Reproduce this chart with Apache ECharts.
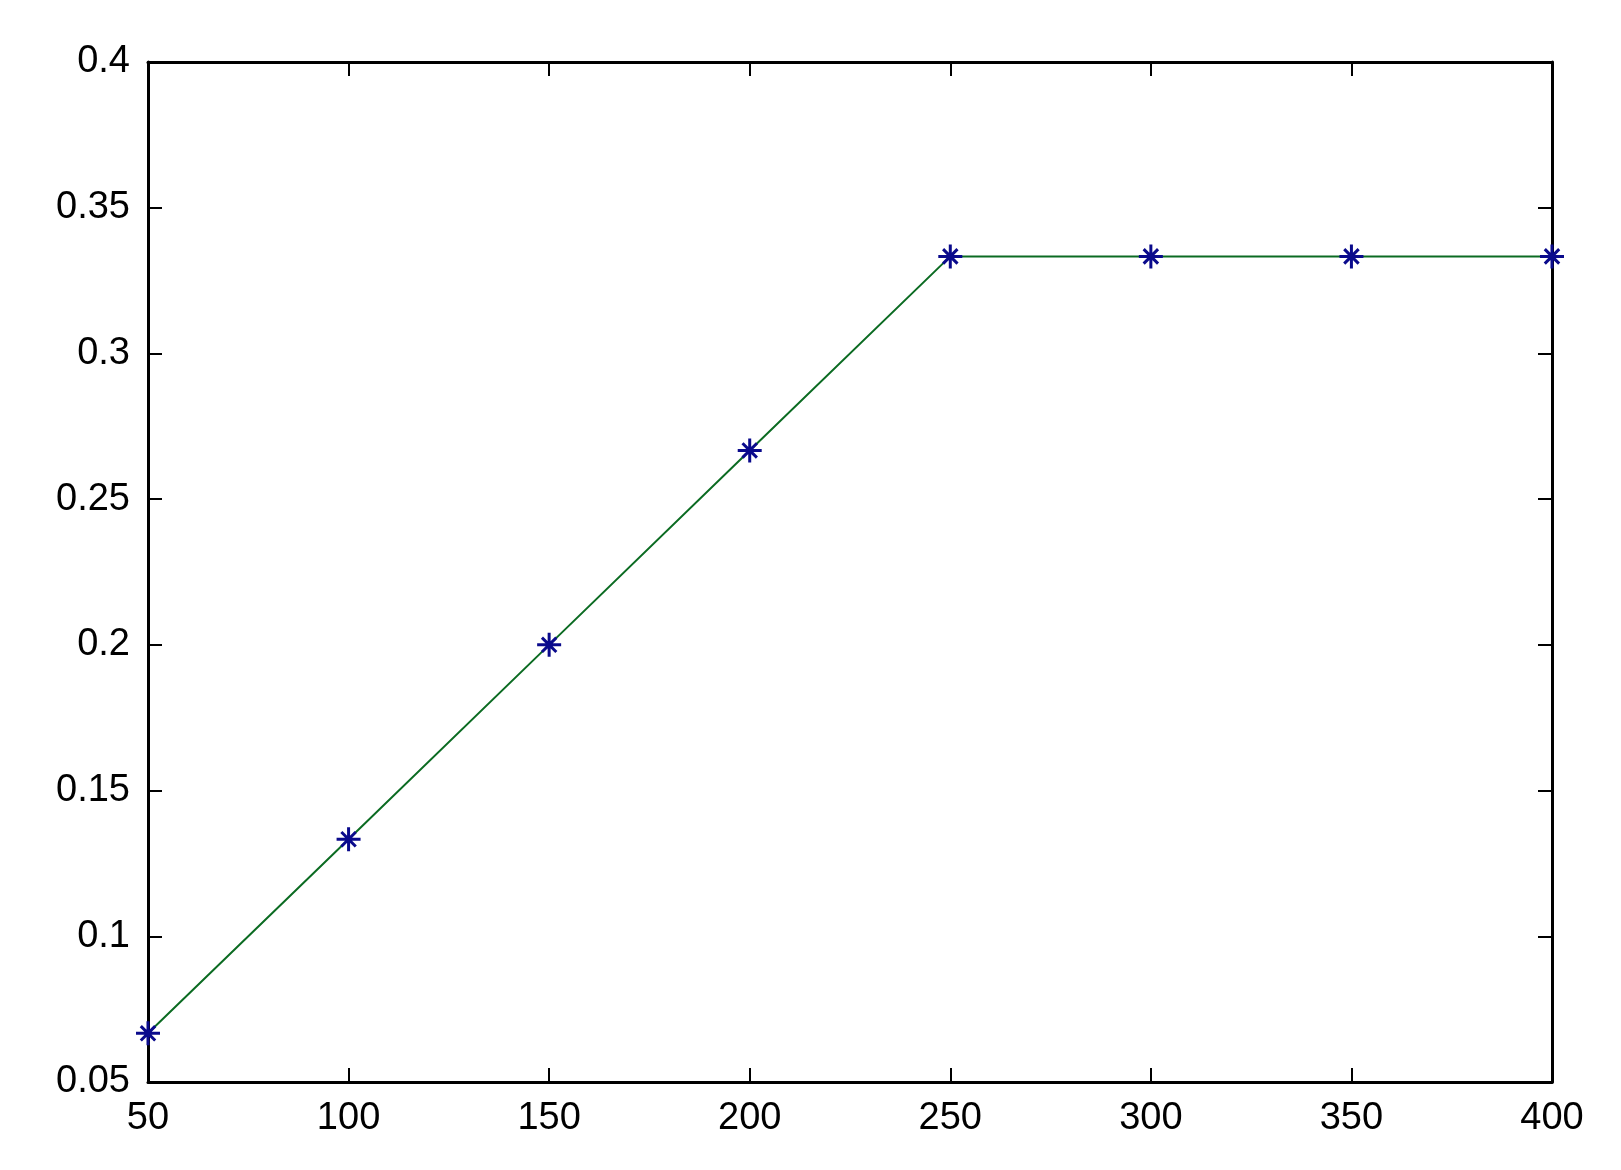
<!DOCTYPE html>
<html>
<head>
  <meta charset="UTF-8" />
  <title>chart</title>
  <script src="https://cdn.jsdelivr.net/npm/echarts@6/dist/echarts.min.js"></script>
  <style>
    html, body { margin: 0; padding: 0; background: #fff; }
    #chart { width: 1621px; height: 1170px; }
  </style>
</head>
<body>
  <div id="chart"></div>
  <script>
    // data
    const xValues = [50, 100, 150, 200, 250, 300, 350, 400];
    const yValues = [0.0667, 0.1333, 0.2, 0.2667, 0.3333, 0.3333, 0.3333, 0.3333];
    const xTicks = { min: 50, max: 400, step: 50 };
    const yTicks = { min: 0.05, max: 0.4, step: 0.05 };

    const chart = echarts.init(document.getElementById('chart'));
    const labelFont = { color: '#000', fontSize: 38, fontFamily: 'Liberation Sans, Arial, sans-serif' };
    const boxLine = { show: true, onZero: false, lineStyle: { color: '#000', width: 3 } };
    const inTick = { show: true, inside: true, length: 14, lineStyle: { color: '#000', width: 2 } };

    // asterisk marker: plus + cross, stroked
    const star = 'path://M0,-10L0,10M-10,0L10,0M-6,-6L6,6M-6,6L6,-6';

    chart.setOption({
      backgroundColor: '#fff',
      animation: false,
      grid: { left: 148, right: 69, top: 62, bottom: 88 },
      xAxis: [
        {
          type: 'value', min: xTicks.min, max: xTicks.max, interval: xTicks.step,
          axisLine: boxLine, axisTick: inTick,
          axisLabel: Object.assign({ margin: 18 }, labelFont),
          splitLine: { show: false }
        },
        {
          type: 'value', position: 'top', min: xTicks.min, max: xTicks.max, interval: xTicks.step,
          axisLine: boxLine, axisTick: inTick, axisLabel: { show: false },
          splitLine: { show: false }
        }
      ],
      yAxis: [
        {
          type: 'value', min: yTicks.min, max: yTicks.max, interval: yTicks.step,
          axisLine: boxLine, axisTick: inTick,
          axisLabel: Object.assign({ margin: 18, formatter: v => String(+v.toFixed(2)) }, labelFont),
          splitLine: { show: false }
        },
        {
          type: 'value', position: 'right', min: yTicks.min, max: yTicks.max, interval: yTicks.step,
          axisLine: boxLine, axisTick: inTick, axisLabel: { show: false },
          splitLine: { show: false }
        }
      ],
      series: [
        {
          type: 'line',
          data: xValues.map((x, i) => [x, yValues[i]]),
          lineStyle: { color: '#0b6b22', width: 2 },
          symbol: 'none',
          z: 2
        },
        {
          type: 'line',
          data: xValues.map((x, i) => [x, yValues[i]]),
          lineStyle: { width: 0, opacity: 0 },
          symbol: star,
          symbolSize: 24,
          itemStyle: { color: 'none', borderColor: '#0a0a8c', borderWidth: 3 },
          z: 3
        }
      ]
    });
  </script>
</body>
</html>
